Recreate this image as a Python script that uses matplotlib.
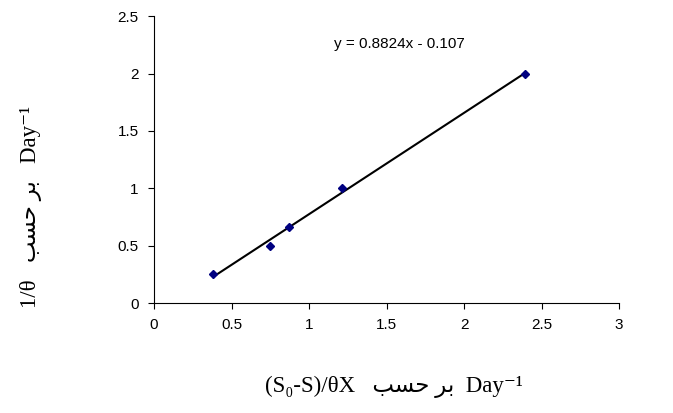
import numpy as np
import matplotlib.pyplot as plt

x_vals = [0.38, 0.75, 0.87, 1.21, 2.39]
y_vals = [0.25, 0.50, 0.66, 1.00, 2.00]
slope = 0.8824
intercept = -0.107

fig = plt.figure(figsize=(6.73, 4.13), dpi=100)
ax = fig.add_axes([0.229, 0.266, 0.691, 0.695])

xs = np.array([min(x_vals), max(x_vals)])
ax.plot(xs, slope * xs + intercept, color='black', lw=1.5, zorder=2)
ax.plot(x_vals, y_vals, linestyle='none', marker='D', ms=4.5,
        color='#000080', zorder=3)

ax.set_xlim(0, 3)
ax.set_ylim(0, 2.5)
ax.set_xticks([0, 0.5, 1, 1.5, 2, 2.5, 3])
ax.set_xticklabels(['0', '0.5', '1', '1.5', '2', '2.5', '3'])
ax.set_yticks([0, 0.5, 1, 1.5, 2, 2.5])
ax.set_yticklabels(['0', '0.5', '1', '1.5', '2', '2.5'])
for s in ['top', 'right']:
    ax.spines[s].set_visible(False)
for s in ['left', 'bottom']:
    ax.spines[s].set_color('black')
    ax.spines[s].set_linewidth(0.8)
ax.tick_params(direction='out', length=4, width=0.8, labelsize=11,
               pad=7)
for lab in ax.get_xticklabels() + ax.get_yticklabels():
    lab.set_fontfamily('Liberation Sans')

ax.text(1.58, 2.26, 'y = 0.8824x - 0.107', fontsize=11,
        family='Liberation Sans', ha='center', va='center')

# Arabic in presentation forms, visual order (matplotlib does no shaping)
label_fonts = ['Liberation Serif', 'DejaVu Sans']
fig.text(0.585, 0.062, '(S₀-S)/θX   ﺐﺴﺣ ﺮﺑ  Day⁻¹',
         family=label_fonts, fontsize=16.5, ha='center', va='center')
fig.text(0.046, 0.5, '1/θ   ﺐﺴﺣ ﺮﺑ   Day⁻¹',
         family=label_fonts, fontsize=16.5, ha='center', va='center',
         rotation=90)

fig.savefig('out.png', dpi=100)
